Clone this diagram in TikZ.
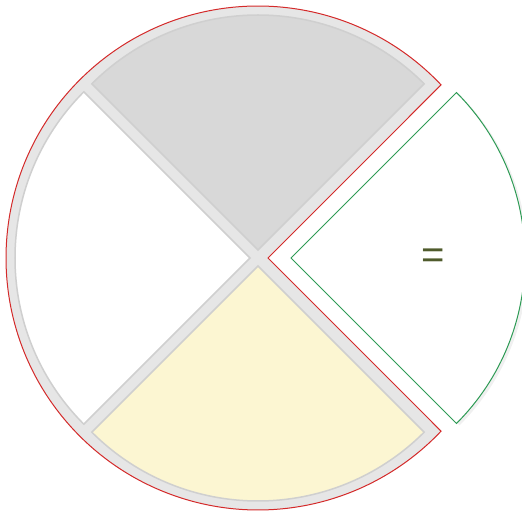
\documentclass[tikz,border=0pt]{standalone}
\usepackage{fontspec}
\setmainfont{Liberation Sans}
\usepackage{xcolor}
\usetikzlibrary{shadows}

\definecolor{ringgray}{HTML}{E6E6E6}
\definecolor{edgegray}{HTML}{CFCFCF}
\definecolor{topgray}{HTML}{D8D8D8}
\definecolor{paleyellow}{HTML}{FCF6D2}
\definecolor{outlinered}{HTML}{D42A2A}
\definecolor{outlinegreen}{HTML}{2E9B55}
\definecolor{olivetext}{HTML}{4F5B2C}

\begin{document}
\begin{tikzpicture}[
    x=1pt, y=1pt,
    ring/.style={fill=ringgray, draw=outlinered, line width=1pt},
    slice/.style={draw=edgegray, line width=1.5pt, line join=miter},
    cutslice/.style={fill=white, draw=outlinegreen, line width=1pt,
        drop shadow={shadow xshift=3pt, shadow yshift=-2pt, opacity=0.12}},
    sign/.style={text=olivetext, font=\fontsize{40}{42}\selectfont, inner sep=0pt}
]
    \useasboundingbox (-258,-255) rectangle (264,258);

    % background ring with the notch on the right
    \draw[ring] (10,0) -- (43.4:252) arc (43.4:316.6:252) -- cycle;

    % the three slices that stay in place
    \draw[slice, fill=topgray] (0,8) -- ++(45:235) arc (45:135:235) -- cycle;
    \draw[slice, fill=white] (-8,0) -- ++(135:235) arc (135:225:235) -- cycle;
    \draw[slice, fill=paleyellow] (0,-8) -- ++(225:235) arc (225:315:235) -- cycle;

    % detached slice
    \draw[cutslice] (33,0) -- ++(-45:234) arc (-45:45:234) -- cycle;
    \node[sign] (eq) at (175,-1) {=};
\end{tikzpicture}
\end{document}
